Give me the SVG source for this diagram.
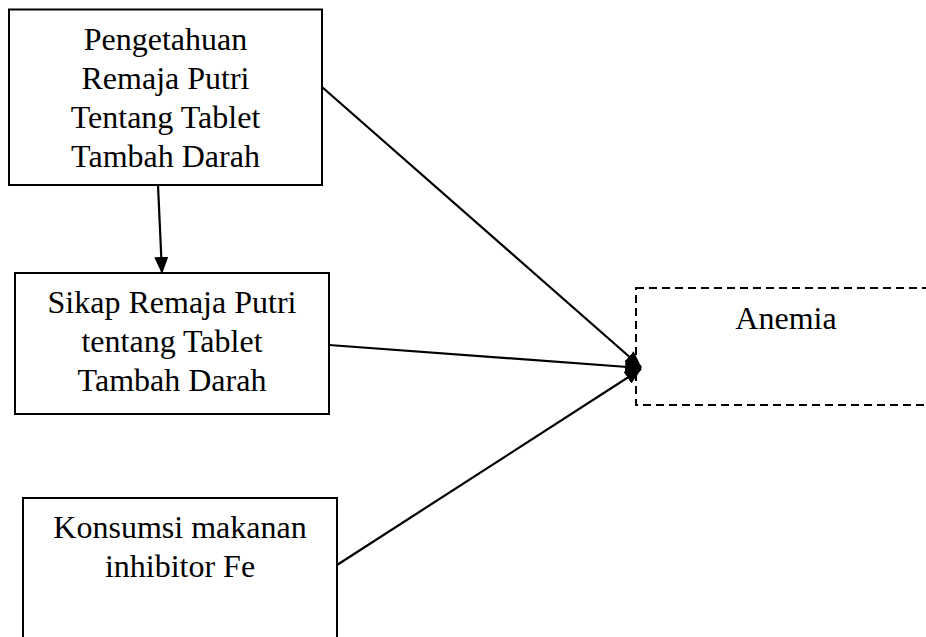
<svg xmlns="http://www.w3.org/2000/svg" width="926" height="637" viewBox="0 0 926 637">
<style>
.box{fill:#fff;stroke:#000;stroke-width:2}
.dash{fill:#fff;stroke:#000;stroke-width:2;stroke-dasharray:8 5}
.t{font-family:"Liberation Serif","Times New Roman",serif;font-size:32px;fill:#000;text-anchor:middle}
.c{stroke:#000;stroke-width:2.2;fill:none;marker-end:url(#ah)}
</style>
<defs>
<marker id="ah" markerWidth="17" markerHeight="14" refX="16" refY="7" orient="auto" markerUnits="userSpaceOnUse">
<path d="M0,0 L17,7 L0,14 Z" fill="#000"/>
</marker>
</defs>
<g id="n1">
<rect class="box" x="9" y="9.5" width="313" height="175.5"/>
<text class="t" x="165.5" y="50">Pengetahuan</text>
<text class="t" x="165.5" y="89">Remaja Putri</text>
<text class="t" x="165.5" y="128">Tentang Tablet</text>
<text class="t" x="165.5" y="167">Tambah Darah</text>
</g>
<g id="n2">
<rect class="box" x="15" y="273" width="314" height="141"/>
<text class="t" x="172" y="313">Sikap Remaja Putri</text>
<text class="t" x="172" y="352">tentang Tablet</text>
<text class="t" x="172" y="391">Tambah Darah</text>
</g>
<g id="n3">
<rect class="box" x="23" y="498" width="314" height="160"/>
<text class="t" x="180" y="538">Konsumsi makanan</text>
<text class="t" x="180" y="577">inhibitor Fe</text>
</g>
<g id="n4">
<rect class="dash" x="636" y="288" width="300" height="117"/>
<text class="t" x="786" y="329">Anemia</text>
</g>
<g id="connectors">
<line class="c" x1="158" y1="185" x2="162" y2="273"/>
<line class="c" x1="322" y1="87" x2="641" y2="367"/>
<line class="c" x1="329" y1="345" x2="641" y2="368"/>
<line class="c" x1="337" y1="565" x2="641" y2="369"/>
</g>
</svg>
